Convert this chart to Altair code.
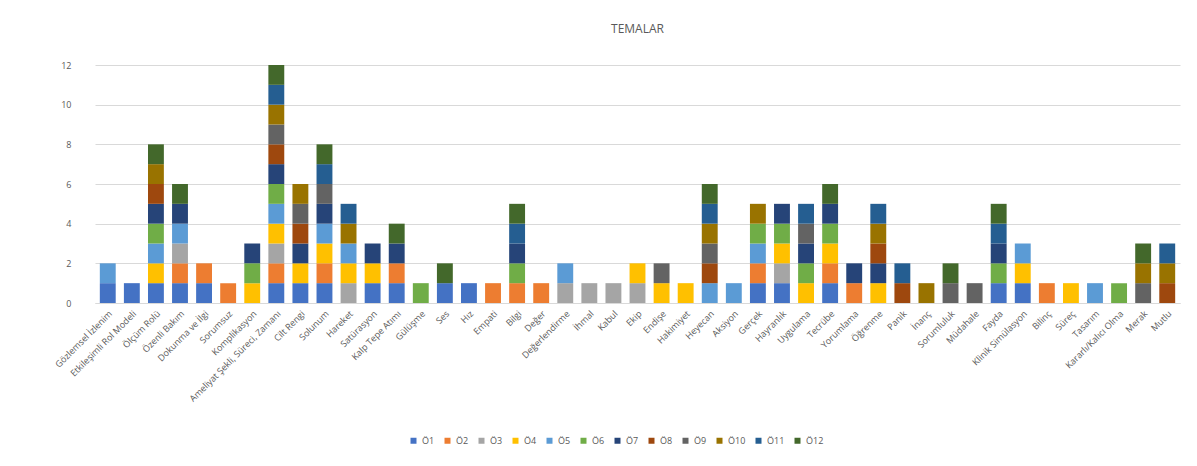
import altair as alt
import pandas as pd

categories = [
    "Gözlemsel İzlenim", "Etkileşimli Rol Modeli", "Ölçüm Rolü", "Özenli Bakım", "Dokunma ve İlgi",
    "Sorumsuz", "Komplikasyon", "Ameliyat Şekli, Süreci, Zamanı", "Cilt Rengi", "Solunum",
    "Hareket", "Satürasyon", "Kalp Tepe Atımı", "Gülüşme", "Ses",
    "Hız", "Empati", "Bilgi", "Değer", "Değerlendirme",
    "İhmal", "Kabul", "Ekip", "Endişe", "Hakimiyet",
    "Heyecan", "Aksiyon", "Gerçek", "Hayranlık", "Uygulama",
    "Tecrübe", "Yorumlama", "Öğrenme", "Panik", "İnanç",
    "Sorumluluk", "Müdahale", "Fayda", "Klinik Simülasyon", "Bilinç",
    "Süreç", "Tasarım", "Kararlı/Kalıcı Olma", "Merak", "Mutlu",
]

series_names = ["Ö1", "Ö2", "Ö3", "Ö4", "Ö5", "Ö6", "Ö7", "Ö8", "Ö9", "Ö10", "Ö11", "Ö12"]
series_colors = ["#4472C4", "#ED7D31", "#A5A5A5", "#FFC000", "#5B9BD5", "#70AD47",
                 "#264478", "#9E480E", "#636363", "#997300", "#255E91", "#43682B"]

o1 = [1,1,1,1,1, 0,0,1,1,1, 0,1,1,0,1, 1,0,0,0,0, 0,0,0,0,0, 0,0,1,1,0, 1,0,0,0,0, 0,0,1,1,0, 0,0,0,0,0]
o2 = [0,0,0,1,1, 1,0,1,0,1, 0,0,1,0,0, 0,1,1,1,0, 0,0,0,0,0, 0,0,1,0,0, 1,1,0,0,0, 0,0,0,0,1, 0,0,0,0,0]
o3 = [0,0,0,1,0, 0,0,1,0,0, 1,0,0,0,0, 0,0,0,0,1, 1,1,1,0,0, 0,0,0,1,0, 0,0,0,0,0, 0,0,0,0,0, 0,0,0,0,0]
o4 = [0,0,1,0,0, 0,1,1,1,1, 1,1,0,0,0, 0,0,0,0,0, 0,0,1,1,1, 0,0,0,1,1, 1,0,1,0,0, 0,0,0,1,0, 1,0,0,0,0]
o5 = [1,0,1,1,0, 0,0,1,0,1, 1,0,0,0,0, 0,0,0,0,1, 0,0,0,0,0, 1,1,1,0,0, 0,0,0,0,0, 0,0,0,1,0, 0,1,0,0,0]
o6 = [0,0,1,0,0, 0,1,1,0,0, 0,0,0,1,0, 0,0,1,0,0, 0,0,0,0,0, 0,0,1,1,1, 1,0,0,0,0, 0,0,1,0,0, 0,0,1,0,0]
o7 = [0,0,1,1,0, 0,1,1,1,1, 0,1,1,0,0, 0,0,1,0,0, 0,0,0,0,0, 0,0,0,1,1, 1,1,1,0,0, 0,0,1,0,0, 0,0,0,0,0]
o8 = [0,0,1,0,0, 0,0,1,1,0, 0,0,0,0,0, 0,0,0,0,0, 0,0,0,0,0, 1,0,0,0,0, 0,0,1,1,0, 0,0,0,0,0, 0,0,0,0,1]
o9 = [0,0,0,0,0, 0,0,1,1,1, 0,0,0,0,0, 0,0,0,0,0, 0,0,0,1,0, 1,0,0,0,1, 0,0,0,0,0, 1,1,0,0,0, 0,0,0,1,0]
o10 = [0,0,1,0,0, 0,0,1,1,0, 1,0,0,0,0, 0,0,0,0,0, 0,0,0,0,0, 1,0,1,0,0, 0,0,1,0,1, 0,0,0,0,0, 0,0,0,1,1]
o11 = [0,0,0,0,0, 0,0,1,0,1, 1,0,0,0,0, 0,0,1,0,0, 0,0,0,0,0, 1,0,0,0,1, 0,0,1,1,0, 0,0,1,0,0, 0,0,0,0,1]
o12 = [0,0,1,1,0, 0,0,1,0,1, 0,0,1,0,1, 0,0,1,0,0, 0,0,0,0,0, 1,0,0,0,0, 1,0,0,0,0, 1,0,1,0,0, 0,0,0,1,0]

series_values = [o1, o2, o3, o4, o5, o6, o7, o8, o9, o10, o11, o12]

rows = []
for si, (name, vals) in enumerate(zip(series_names, series_values)):
    for cat, v in zip(categories, vals):
        if v:
            rows.append({"Tema": cat, "Seri": name, "Sira": si, "Deger": v})
df = pd.DataFrame(rows)

FONT = "Open Sans"
GRAY = "#595959"

chart = alt.Chart(df).mark_bar().encode(
    x=alt.X("Tema:N", sort=categories, title=None,
            scale=alt.Scale(paddingInner=0.34, paddingOuter=0.2),
            axis=alt.Axis(labelAngle=-45, labelFontSize=9, labelColor=GRAY, labelFont=FONT,
                          domainColor="#d9d9d9", ticks=False, labelPadding=6, labelLimit=200,
                          labelOverlap=False)),
    y=alt.Y("sum(Deger):Q", title=None,
            scale=alt.Scale(domain=[0, 12]),
            axis=alt.Axis(values=[0, 2, 4, 6, 8, 10, 12], labelFontSize=9, labelColor=GRAY,
                          labelFont=FONT, domain=False, ticks=False, labelPadding=24,
                          gridColor="#d9d9d9")),
    color=alt.Color("Seri:N", sort=series_names,
                    scale=alt.Scale(domain=series_names, range=series_colors),
                    legend=alt.Legend(title=None, orient="none", direction="horizontal",
                                      columns=12, legendX=314, legendY=371,
                                      symbolType="square", symbolSize=36,
                                      labelFontSize=9, labelColor=GRAY, labelFont=FONT,
                                      columnPadding=8)),
    order=alt.Order("Sira:Q", sort="ascending"),
    tooltip=["Tema", "Seri"],
).properties(
    width=1085,
    height=238,
    title=alt.Title("TEMALAR", fontSize=12, color=GRAY, font=FONT, fontWeight="normal",
                    anchor="middle", offset=25),
    autosize=alt.AutoSizeParams(type="none"),
    padding={"left": 87, "top": 57, "right": 9, "bottom": 145},
).configure_view(stroke=None)

chart.save("out.html", embed_options={"renderer": "svg", "actions": False})
